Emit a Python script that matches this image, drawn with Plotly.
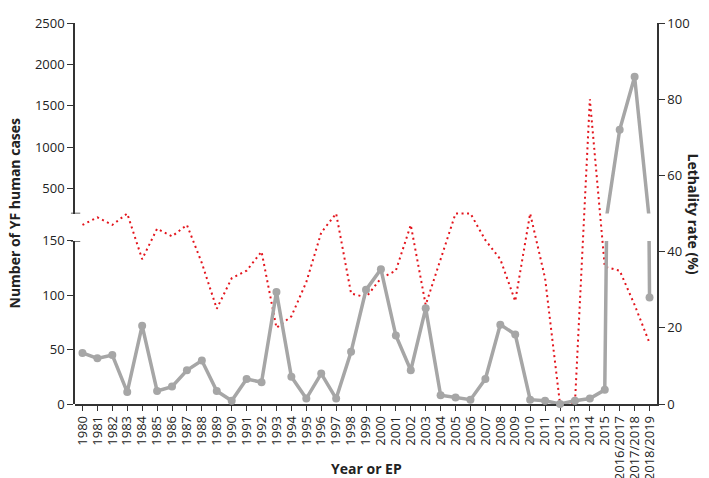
import plotly.graph_objects as go

# x categories: calendar years, then epidemic periods (EP)
periods = [
    "1980", "1981", "1982", "1983", "1984", "1985", "1986", "1987", "1988", "1989",
    "1990", "1991", "1992", "1993", "1994", "1995", "1996", "1997", "1998", "1999",
    "2000", "2001", "2002", "2003", "2004", "2005", "2006", "2007", "2008", "2009",
    "2010", "2011", "2012", "2013", "2014", "2015",
    "2016/2017", "2017/2018", "2018/2019",
]

# number of yellow fever human cases
cases = [
    47, 42, 45, 11, 72, 12, 16, 31, 40, 12,
    3, 23, 20, 103, 25, 5, 28, 5, 48, 105,
    124, 63, 31, 88, 8, 6, 4, 23, 73, 64,
    4, 3, 0, 3, 5, 13,
    1210, 1850, 98,
]

# lethality rate (%)
lethality = [
    47, 49, 47, 50, 38, 46, 44, 47, 37, 25,
    33, 35, 40, 20, 23, 32, 45, 50, 29, 28,
    33, 35, 47, 26, 38, 50, 50, 43, 38, 27,
    50, 33, 0, 0, 80, 36,
    35, 26, 16,
]

lower_ticks = [0, 50, 100, 150]
upper_ticks = [500, 1000, 1500, 2000, 2500]
rate_ticks = [0, 20, 40, 60, 80, 100]

GRAY = "#a6a6a6"
RED = "#e3141c"
INK = "#222222"
AXIS = "#333333"
FONT = "Open Sans"

fig = go.Figure()

# lethality on the right axis (drawn first, sits under the cases line)
fig.add_trace(go.Scatter(
    x=periods, y=lethality, yaxis="y", mode="lines",
    line=dict(color=RED, width=2, dash="2px,3.5px"),
    name="Lethality rate",
))

# cases, lower part of the broken axis
fig.add_trace(go.Scatter(
    x=periods, y=cases, yaxis="y2", mode="lines+markers",
    line=dict(color=GRAY, width=3.5), marker=dict(color=GRAY, size=8),
    cliponaxis=False, name="Cases",
))

# cases, upper part of the broken axis
fig.add_trace(go.Scatter(
    x=periods, y=cases, yaxis="y3", mode="lines+markers",
    line=dict(color=GRAY, width=3.5), marker=dict(color=GRAY, size=8),
    name="Cases",
))

axis_common = dict(
    showline=True, linecolor=AXIS, linewidth=1.5,
    ticks="outside", ticklen=6, tickwidth=1.3, tickcolor=AXIS,
    showgrid=False, zeroline=False,
    tickfont=dict(family=FONT, size=13, color=INK),
)

fig.update_layout(
    width=709, height=478,
    margin=dict(l=67, r=60, t=6, b=82),
    plot_bgcolor="rgba(0,0,0,0)", paper_bgcolor="white",
    showlegend=False,
    xaxis=dict(
        axis_common, type="category", anchor="y",
        range=[-0.5, len(periods) - 0.5], tickangle=-90, ticklen=5,
        tickmode="linear", tick0=0, dtick=1,
    ),
    yaxis=dict(
        axis_common, side="right", anchor="x", domain=[0, 1],
        range=[0, 100], tickvals=rate_ticks,
    ),
    yaxis2=dict(
        axis_common, side="left", anchor="x", domain=[0, 0.428],
        range=[0, 150], tickvals=lower_ticks,
    ),
    yaxis3=dict(
        axis_common, side="left", anchor="x", domain=[0.5, 1],
        range=[200, 2500], tickvals=upper_ticks,
    ),
    shapes=[
        # small caps marking the axis break
        dict(type="line", xref="paper", yref="y2", x0=-0.007, x1=0.009,
             y0=150, y1=150, line=dict(color=AXIS, width=1.5)),
        dict(type="line", xref="paper", yref="y3", x0=-0.007, x1=0.009,
             y0=200, y1=200, line=dict(color=AXIS, width=1.5)),
    ],
    annotations=[
        dict(text="<b>Number of YF human cases</b>", xref="paper", yref="paper",
             x=0, y=0.5, xshift=-61, xanchor="center", yanchor="middle",
             textangle=-90, showarrow=False,
             font=dict(family=FONT, size=14, color=INK)),
        dict(text="<b>Lethality rate (%)</b>", xref="paper", yref="paper",
             x=1, y=0.5, xshift=36, xanchor="center", yanchor="middle",
             textangle=90, showarrow=False,
             font=dict(family=FONT, size=14, color=INK)),
        dict(text="<b>Year or EP</b>", xref="paper", yref="paper",
             x=0.5, y=0, yshift=-64, xanchor="center", yanchor="middle",
             showarrow=False,
             font=dict(family=FONT, size=14, color=INK)),
    ],
)

fig.write_html("out.html")
